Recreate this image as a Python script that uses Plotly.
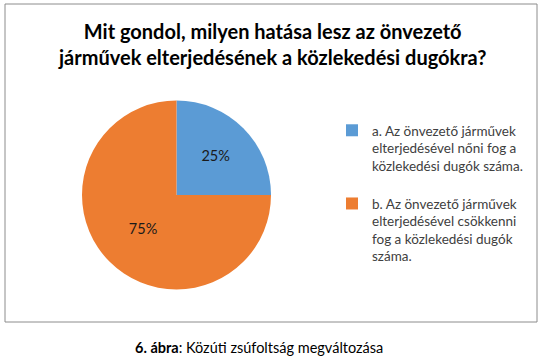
import plotly.graph_objects as go

categories = [
    "a. Az önvezető járművek<br>elterjedésével nőni fog a<br>közlekedési dugók száma.<br> ",
    "b. Az önvezető járművek<br>elterjedésével csökkenni<br>fog a közlekedési dugók<br>száma.",
]
values = [25, 75]
colors = ["#5B9BD5", "#ED7D31"]

title_text = "Mit gondol, milyen hatása lesz az önvezető<br>járművek elterjedésének a közlekedési dugókra?"
caption = "<b>6. ábra</b>: Közúti zsúfoltság megváltozása"

W, H = 541, 363
FONT = "Lato"


def px(x):
    return x / W


def py(y):
    return 1 - y / H


fig = go.Figure(go.Pie(
    labels=categories,
    values=values,
    sort=False,
    direction="clockwise",
    rotation=0,
    marker=dict(colors=colors, line=dict(color="white", width=0)),
    textinfo="percent",
    texttemplate="%{percent:.0%}",
    textposition="inside",
    insidetextorientation="horizontal",
    textfont=dict(family=FONT, size=14.5, color="#1a1a1a"),
    hoverinfo="skip",
    domain=dict(x=[px(82), px(271)], y=[py(289.5), py(100.5)]),
))

fig.update_layout(
    width=W, height=H,
    margin=dict(l=0, r=0, t=0, b=0, autoexpand=False),
    paper_bgcolor="white",
    plot_bgcolor="white",
    font=dict(family=FONT, color="#404040"),
    showlegend=True,
    legend=dict(
        x=px(332), y=py(115), xanchor="left", yanchor="top",
        font=dict(family=FONT, size=13.5, color="#404040"),
        itemwidth=30,
        valign="top",
        bgcolor="rgba(0,0,0,0)",
    ),
    shapes=[dict(
        type="rect", xref="paper", yref="paper",
        x0=px(5), x1=px(537), y0=py(322), y1=py(4),
        line=dict(color="#8C8C8C", width=1), fillcolor="rgba(0,0,0,0)",
        layer="below",
    )],
    annotations=[
        dict(text="<b>" + title_text + "</b>", xref="paper", yref="paper",
             x=px(272), y=py(17), xanchor="center", yanchor="top",
             showarrow=False, font=dict(family=FONT, size=20, color="#000000")),
        dict(text=caption, xref="paper", yref="paper",
             x=px(259), y=py(347), xanchor="center", yanchor="middle",
             showarrow=False, font=dict(family=FONT, size=14.5, color="#000000")),
    ],
)

fig.write_html("out.html", config={"displayModeBar": False},
               post_script="document.body.style.margin='0';")
